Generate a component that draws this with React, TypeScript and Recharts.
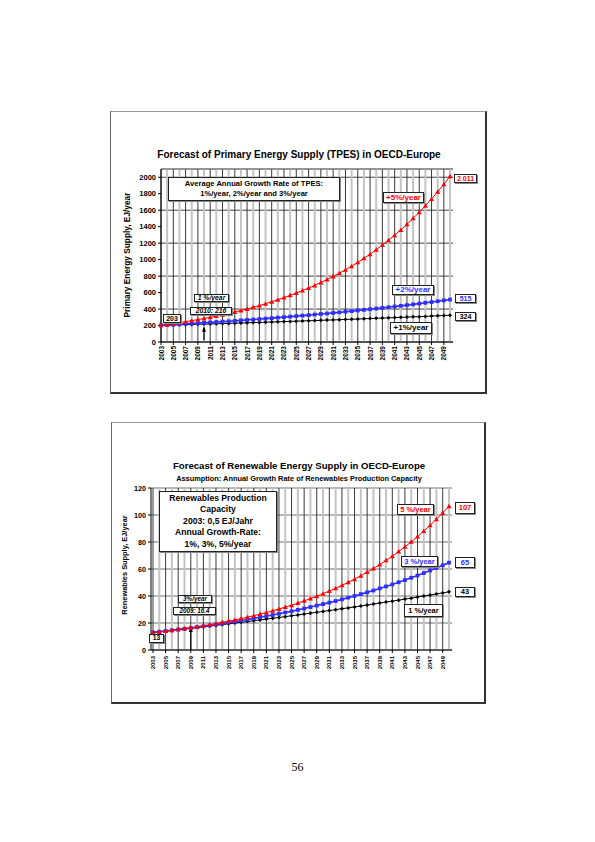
import { CartesianGrid, Line, LineChart, ReferenceDot, ReferenceLine, XAxis, YAxis } from 'recharts';

const FONT = '"Liberation Sans", Arial, Helvetica, sans-serif';

const years = [
  2003, 2004, 2005, 2006, 2007, 2008, 2009, 2010, 2011, 2012, 2013, 2014, 2015, 2016, 2017, 2018,
  2019, 2020, 2021, 2022, 2023, 2024, 2025, 2026, 2027, 2028, 2029, 2030, 2031, 2032, 2033, 2034,
  2035, 2036, 2037, 2038, 2039, 2040, 2041, 2042, 2043, 2044, 2045, 2046, 2047, 2048, 2049, 2050,
];

// primary energy supply, EJ/year
const tpes1 = [
  203, 205, 207, 209, 211, 213, 216, 218, 220, 222, 224, 226, 229, 231, 233, 236, 238, 240, 243, 245,
  248, 250, 253, 255, 258, 260, 263, 266, 268, 271, 274, 276, 279, 282, 285, 288, 290, 293, 296, 299,
  302, 305, 308, 311, 315, 318, 321, 324,
];
const tpes2 = [
  203, 207, 211, 215, 220, 224, 229, 233, 238, 243, 247, 252, 257, 263, 268, 273, 279, 284, 290, 296,
  302, 308, 314, 320, 326, 333, 340, 346, 353, 360, 368, 375, 383, 390, 398, 406, 414, 422, 431, 439,
  448, 457, 466, 476, 485, 495, 505, 515,
];
const tpes5 = [
  203, 213, 224, 235, 247, 259, 272, 286, 300, 315, 331, 347, 365, 383, 402, 422, 443, 465, 489, 513,
  539, 566, 594, 624, 655, 687, 722, 758, 796, 836, 877, 921, 967, 1016, 1066, 1120, 1176, 1235, 1296,
  1361, 1429, 1501, 1576, 1654, 1737, 1824, 1915, 2011,
];

// renewables supply, EJ/year
const ren1 = [
  13.0, 13.5, 14.0, 14.5, 15.1, 15.6, 16.1, 16.6, 17.2, 17.7, 18.3, 18.8, 19.4, 20.0, 20.5, 21.1,
  21.7, 22.3, 22.9, 23.5, 24.1, 24.7, 25.4, 26.0, 26.6, 27.3, 27.9, 28.6, 29.2, 29.9, 30.6, 31.2,
  31.9, 32.6, 33.3, 34.0, 34.8, 35.5, 36.2, 36.9, 37.7, 38.4, 39.2, 40.0, 40.7, 41.5, 42.3, 43.1,
];
const ren3 = [
  13.0, 13.5, 14.0, 14.6, 15.2, 15.7, 16.3, 16.9, 17.6, 18.2, 18.9, 19.6, 20.3, 21.0, 21.8, 22.6,
  23.4, 24.2, 25.1, 25.9, 26.8, 27.8, 28.7, 29.7, 30.7, 31.8, 32.9, 34.0, 35.1, 36.3, 37.5, 38.8,
  40.0, 41.4, 42.7, 44.1, 45.6, 47.1, 48.6, 50.2, 51.8, 53.5, 55.2, 57.0, 58.9, 60.8, 62.7, 64.7,
];
const ren5 = [
  13.0, 13.5, 14.1, 14.7, 15.3, 15.9, 16.6, 17.3, 18.0, 18.8, 19.6, 20.5, 21.4, 22.3, 23.3, 24.3,
  25.4, 26.6, 27.8, 29.0, 30.4, 31.8, 33.2, 34.8, 36.4, 38.1, 39.8, 41.7, 43.7, 45.7, 47.9, 50.1,
  52.5, 55.0, 57.7, 60.4, 63.3, 66.4, 69.5, 72.9, 76.4, 80.1, 84.0, 88.1, 92.4, 96.8, 101.6, 106.5,
];

const tpesTicks = [0, 200, 400, 600, 800, 1000, 1200, 1400, 1600, 1800, 2000];
const renTicks = [0, 20, 40, 60, 80, 100, 120];

const tpesData = years.map((year, i) => ({ year, p1: tpes1[i], p2: tpes2[i], p5: tpes5[i] }));
const renData = years.map((year, i) => ({ year, r1: ren1[i], r3: ren3[i], r5: ren5[i] }));

const RED = '#ff0000';
const BLUE = '#2f2fff';

const triangle = (color: string, s: number) => (p: any) => {
  if (p.cx == null || p.cy == null) return <g key={`t${p.index}`} />;
  return (
    <path
      key={`t${p.index}`}
      d={`M${p.cx},${p.cy - s}L${p.cx + s},${p.cy + s * 0.8}L${p.cx - s},${p.cy + s * 0.8}Z`}
      fill={color}
    />
  );
};
const square = (color: string, s: number) => (p: any) => {
  if (p.cx == null || p.cy == null) return <g key={`s${p.index}`} />;
  return <rect key={`s${p.index}`} x={p.cx - s} y={p.cy - s} width={s * 2} height={s * 2} fill={color} />;
};
const diamond = (color: string, s: number) => (p: any) => {
  if (p.cx == null || p.cy == null) return <g key={`d${p.index}`} />;
  return (
    <path
      key={`d${p.index}`}
      d={`M${p.cx},${p.cy - s}L${p.cx + s},${p.cy}L${p.cx},${p.cy + s}L${p.cx - s},${p.cy}Z`}
      fill={color}
    />
  );
};

const arrowHead = (p: any) => (
  <path d={`M${p.cx},${p.cy}L${p.cx + 2},${p.cy + 5}L${p.cx - 2},${p.cy + 5}Z`} fill="#000" />
);

const yearTick = (size: number) => (p: any) => (
  <text
    x={p.x}
    y={p.y}
    transform={`rotate(-90 ${p.x} ${p.y})`}
    textAnchor="end"
    dominantBaseline="central"
    fontSize={size}
    fontWeight="bold"
    fontFamily={FONT}
    fill="#000"
  >
    {p.payload.value}
  </text>
);

const Tag = ({ left, top, width, height, color = '#000', italic = false, size = 7, children }: any) => (
  <div
    style={{
      position: 'absolute',
      left,
      top,
      width,
      height,
      boxSizing: 'border-box',
      border: '1px solid #222',
      boxShadow: '1px 1px 0 #888',
      background: '#fff',
      color,
      fontFamily: FONT,
      fontWeight: 'bold',
      fontStyle: italic ? 'italic' : 'normal',
      fontSize: size,
      lineHeight: 1,
      display: 'flex',
      alignItems: 'center',
      justifyContent: 'center',
      whiteSpace: 'nowrap',
    }}
  >
    {children}
  </div>
);

const Frame = ({ left, top, width, height }: any) => (
  <div
    style={{
      position: 'absolute',
      left,
      top,
      width,
      height,
      boxSizing: 'border-box',
      borderTop: '1px solid #999',
      borderLeft: '1px solid #666',
      borderRight: '2px solid #333',
      borderBottom: '2px solid #333',
    }}
  />
);

const Heading = ({ top, size, children }: any) => (
  <div
    style={{
      position: 'absolute',
      left: 111,
      top,
      width: 376,
      textAlign: 'center',
      fontFamily: FONT,
      fontWeight: 'bold',
      fontSize: size,
      lineHeight: 1,
      whiteSpace: 'nowrap',
    }}
  >
    {children}
  </div>
);

const AxisTitle = ({ cx, cy, size, children }: any) => (
  <div
    style={{
      position: 'absolute',
      left: cx - 100,
      top: cy - 6,
      width: 200,
      height: 12,
      lineHeight: '12px',
      textAlign: 'center',
      fontFamily: FONT,
      fontWeight: 'bold',
      fontSize: size,
      whiteSpace: 'nowrap',
      transform: 'rotate(-90deg)',
    }}
  >
    {children}
  </div>
);

const verticalGrid = (keyPrefix: string) =>
  years.map((y) => (
    <ReferenceLine
      key={`${keyPrefix}${y}`}
      x={y}
      stroke={y % 2 === 0 ? '#c4c4c4' : '#222'}
      strokeWidth={y % 2 === 0 ? 2 : 0.9}
    />
  ));

export default function App() {
  return (
    <div
      style={{
        position: 'absolute',
        left: 0,
        top: 0,
        width: 595,
        height: 842,
        background: '#fff',
        overflow: 'hidden',
      }}
    >
      {/* chart 1: primary energy supply */}
      <Frame left={110} top={111} width={377} height={283} />
      <div style={{ position: 'absolute', left: 111, top: 111 }}>
        <LineChart
          width={376}
          height={282}
          data={tpesData}
          margin={{ top: 58, right: 34, bottom: 11, left: 0 }}
        >
          <CartesianGrid vertical={false} stroke="#444" strokeWidth={1} />
          {verticalGrid('a')}
          <ReferenceLine y={2100} stroke="#888" />
          <XAxis
            dataKey="year"
            interval={1}
            height={40}
            padding={{ left: 0, right: 3 }}
            tick={yearTick(6.5)}
            tickSize={3}
            tickMargin={1}
            axisLine={{ stroke: '#000' }}
            tickLine={{ stroke: '#000' }}
          />
          <YAxis
            domain={[0, 2100]}
            ticks={tpesTicks}
            width={50}
            tickSize={3}
            tickMargin={2}
            tick={{ fontSize: 7.5, fontWeight: 'bold', fill: '#000', fontFamily: FONT }}
            axisLine={{ stroke: '#000' }}
            tickLine={{ stroke: '#000' }}
            allowDataOverflow
          />
          <YAxis
            yAxisId="edge"
            orientation="right"
            domain={[0, 2100]}
            width={0}
            tick={false}
            tickLine={false}
            axisLine={{ stroke: '#888' }}
          />
          <ReferenceLine segment={[{ x: 2010, y: 20 }, { x: 2010, y: 175 }]} stroke="#000" strokeWidth={1.2} />
          <ReferenceDot x={2010} y={185} r={0} shape={arrowHead} />
          <Line
            dataKey="p1"
            stroke="#000"
            strokeWidth={1}
            dot={diamond('#000', 2)}
            isAnimationActive={false}
          />
          <Line
            dataKey="p2"
            stroke={BLUE}
            strokeWidth={1.6}
            dot={square(BLUE, 1.9)}
            isAnimationActive={false}
          />
          <Line
            dataKey="p5"
            stroke={RED}
            strokeWidth={1}
            dot={triangle(RED, 2.5)}
            isAnimationActive={false}
          />
        </LineChart>
      </div>
      <Heading top={150} size={10}>
        Forecast of Primary Energy Supply (TPES) in OECD-Europe
      </Heading>
      <AxisTitle cx={127} cy={255} size={8.3}>
        Primary Energy Supply, EJ/year
      </AxisTitle>
      <Tag left={168} top={177} width={172} height={24} size={7.6}>
        <div style={{ textAlign: 'center', lineHeight: '10px' }}>
          Average Annual Growth Rate of TPES:
          <br />
          1%/year, 2%/year and 3%/year
        </div>
      </Tag>
      <Tag left={383} top={192} width={41} height={11} color={RED} size={8}>
        +5%/year
      </Tag>
      <Tag left={454} top={174} width={23} height={9} color={RED} size={7}>
        2 011
      </Tag>
      <Tag left={392} top={285} width={42} height={10} color={BLUE} size={8}>
        +2%/year
      </Tag>
      <Tag left={455} top={294} width={21} height={9} color={BLUE} size={7}>
        515
      </Tag>
      <Tag left={455} top={312} width={21} height={9} size={7}>
        324
      </Tag>
      <Tag left={390} top={322} width={42} height={12} size={8}>
        +1%/year
      </Tag>
      <Tag left={194} top={294} width={35} height={8} italic size={6.8}>
        1 %/year
      </Tag>
      <Tag left={190} top={307} width={42} height={8} italic size={6.8}>
        2010: 216
      </Tag>
      <Tag left={163} top={314} width={18} height={9} size={7}>
        203
      </Tag>

      {/* chart 2: renewables */}
      <Frame left={111} top={422} width={375} height={282} />
      <div style={{ position: 'absolute', left: 111, top: 422 }}>
        <LineChart
          width={375}
          height={281}
          data={renData}
          margin={{ top: 66, right: 34, bottom: 11, left: 0 }}
        >
          <CartesianGrid vertical={false} stroke="#a0a0a0" strokeWidth={1.5} />
          {verticalGrid('b')}
          <XAxis
            dataKey="year"
            interval={1}
            height={42}
            padding={{ left: 2, right: 3 }}
            tick={yearTick(6)}
            tickSize={3}
            tickMargin={3}
            axisLine={{ stroke: '#000' }}
            tickLine={{ stroke: '#000' }}
          />
          <YAxis
            domain={[0, 120]}
            ticks={renTicks}
            width={40}
            tickSize={3}
            tickMargin={2}
            tick={{ fontSize: 7.2, fontWeight: 'bold', fill: '#000', fontFamily: FONT }}
            axisLine={{ stroke: '#000' }}
            tickLine={{ stroke: '#000' }}
            allowDataOverflow
          />
          <YAxis
            yAxisId="edge"
            orientation="right"
            domain={[0, 120]}
            width={0}
            tick={false}
            tickLine={false}
            axisLine={{ stroke: '#888' }}
          />
          <ReferenceLine segment={[{ x: 2009, y: 0 }, { x: 2009, y: 16 }]} stroke="#000" strokeWidth={1.2} />
          <ReferenceDot x={2009} y={17} r={0} shape={arrowHead} />
          <Line
            dataKey="r1"
            stroke="#000"
            strokeWidth={1}
            dot={diamond('#000', 2)}
            isAnimationActive={false}
          />
          <Line
            dataKey="r3"
            stroke={BLUE}
            strokeWidth={1.6}
            dot={square(BLUE, 1.9)}
            isAnimationActive={false}
          />
          <Line
            dataKey="r5"
            stroke={RED}
            strokeWidth={1}
            dot={triangle(RED, 2.5)}
            isAnimationActive={false}
          />
        </LineChart>
      </div>
      <Heading top={461} size={9.6}>
        Forecast of Renewable Energy Supply in OECD-Europe
      </Heading>
      <Heading top={475} size={7.4}>
        Assumption: Annual Growth Rate of Renewables Production Capacity
      </Heading>
      <AxisTitle cx={125} cy={565} size={7.4}>
        Renewables Supply, EJ/year
      </AxisTitle>
      <Tag left={159} top={491} width={118} height={61} size={8.6}>
        <div style={{ textAlign: 'center', lineHeight: '11.5px' }}>
          Renewables Production
          <br />
          Capacity
          <br />
          2003: 0,5 EJ/Jahr
          <br />
          Annual Growth-Rate:
          <br />
          1%, 3%, 5%/year
        </div>
      </Tag>
      <Tag left={397} top={504} width={37} height={11} color={RED} size={7.5}>
        5 %/year
      </Tag>
      <Tag left={455} top={502} width={20} height={12} color={RED} size={7.5}>
        107
      </Tag>
      <Tag left={401} top={556} width={37} height={11} color={BLUE} size={7.5}>
        3 %/year
      </Tag>
      <Tag left={455} top={557} width={20} height={11} color={BLUE} size={7.5}>
        65
      </Tag>
      <Tag left={455} top={587} width={20} height={10} size={7.5}>
        43
      </Tag>
      <Tag left={404} top={604} width={39} height={13} size={7.5}>
        1 %/year
      </Tag>
      <Tag left={178} top={595} width={34} height={8} italic size={6.3}>
        3%/year
      </Tag>
      <Tag left={173} top={607} width={43} height={8} italic size={6.3}>
        2009: 16.4
      </Tag>
      <Tag left={149} top={634} width={15} height={9} size={6.8}>
        13
      </Tag>

      <div
        style={{
          position: 'absolute',
          left: 0,
          top: 760,
          width: 595,
          textAlign: 'center',
          fontFamily: '"Liberation Serif", "Times New Roman", serif',
          fontSize: 12,
        }}
      >
        56
      </div>
    </div>
  );
}
